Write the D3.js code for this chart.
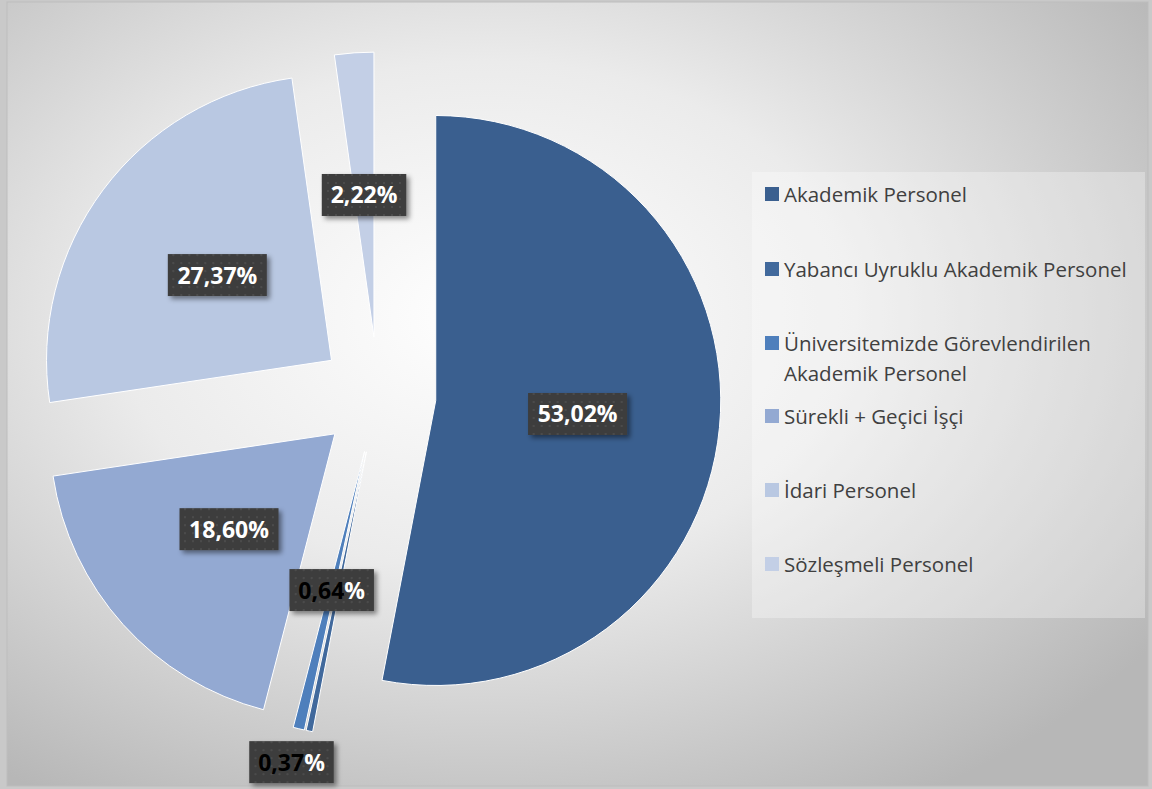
<!DOCTYPE html>
<html>
<head>
<meta charset="utf-8">
<script src="https://cdn.jsdelivr.net/npm/d3@7"></script>
<style>
  html, body { margin: 0; padding: 0; background: #c9c9c9; }
  svg { display: block; }
</style>
</head>
<body>
<div id="chart"></div>
<script>
// Personel dağılımı, exploded pie
// slice sizes as drawn in the picture; printed labels kept separately

const categories = [
  "Akademik Personel",
  "Yabancı Uyruklu Akademik Personel",
  "Üniversitemizde Görevlendirilen Akademik Personel",
  "Sürekli + Geçici İşçi",
  "İdari Personel",
  "Sözleşmeli Personel"
];
const values = [53.02, 0.37, 0.64, 18.60, 25.15, 2.22];
const labels = ["53,02%", "0,37%", "0,64%", "18,60%", "27,37%", "2,22%"];
const legendLines = [
  ["Akademik Personel"],
  ["Yabancı Uyruklu Akademik Personel"],
  ["Üniversitemizde Görevlendirilen", "Akademik Personel"],
  ["Sürekli + Geçici İşçi"],
  ["İdari Personel"],
  ["Sözleşmeli Personel"]
];
const colors = ["#3a5f8f", "#41699c", "#4e7fbc", "#93a9d2", "#b9c8e2", "#c3cfe6"];

const W = 1152, H = 789;
const svg = d3.select("#chart").append("svg")
  .attr("width", W).attr("height", H);

const defs = svg.append("defs");

// background gradient
const bg = defs.append("radialGradient").attr("id", "bg")
  .attr("cx", "42%").attr("cy", "40%").attr("r", "72%");
bg.append("stop").attr("offset", "0%").attr("stop-color", "#ffffff");
bg.append("stop").attr("offset", "45%").attr("stop-color", "#ebebeb");
bg.append("stop").attr("offset", "100%").attr("stop-color", "#b7b7b7");

// dotted dark label fill
const pat = defs.append("pattern").attr("id", "dots")
  .attr("width", 8).attr("height", 8).attr("patternUnits", "userSpaceOnUse");
pat.append("rect").attr("width", 8).attr("height", 8).attr("fill", "#3c3c3c");
pat.append("circle").attr("cx", 4).attr("cy", 4).attr("r", 1.2).attr("fill", "#4c4c4c");

const shadow = defs.append("filter").attr("id", "shadow")
  .attr("x", "-20%").attr("y", "-20%").attr("width", "150%").attr("height", "160%");
shadow.append("feDropShadow").attr("dx", 3).attr("dy", 3)
  .attr("stdDeviation", 2.5).attr("flood-color", "#000").attr("flood-opacity", 0.45);

// chart area
svg.append("rect").attr("x", 7).attr("y", 2).attr("width", 1141).attr("height", 784)
  .attr("fill", "url(#bg)").attr("stroke", "#bdbdbd").attr("stroke-width", 1);

// pie
const cx = 378, cy = 395, r = 285, explode = 58;
const pie = d3.pie().sort(null).value(d => d)(values);
const arc = d3.arc().innerRadius(0).outerRadius(r);
const dir = a => [Math.sin(a), -Math.cos(a)];

const slices = svg.append("g").attr("transform", `translate(${cx},${cy})`);
slices.selectAll("path").data(pie).join("path")
  .attr("transform", d => {
    const [ux, uy] = dir((d.startAngle + d.endAngle) / 2);
    return `translate(${ux * explode},${uy * explode})`;
  })
  .attr("d", arc)
  .attr("fill", (d, i) => colors[i])
  .attr("stroke", "#ffffff").attr("stroke-width", 1);

// data labels (small Yabancı label sits outside the pie)
const labelFactor = [0.5, 1.12, 0.5, 0.5, 0.5, 0.5];
const labelTurn = [0, 0.03, 0, 0, 0, 0];
const lg = slices.append("g");
pie.forEach((d, i) => {
  const [ux, uy] = dir((d.startAngle + d.endAngle) / 2 + labelTurn[i]);
  const k = explode + r * labelFactor[i];
  const x = ux * k, y = uy * k;
  const g = lg.append("g").attr("transform", `translate(${x},${y})`);
  const bw = labels[i].length * 14.5 + 12, bh = 42;
  g.append("rect").attr("x", -bw / 2).attr("y", -bh / 2)
    .attr("width", bw).attr("height", bh)
    .attr("fill", "url(#dots)").attr("filter", "url(#shadow)");
  const t = g.append("text").attr("text-anchor", "middle").attr("y", 8.5)
    .attr("font-family", "'Open Sans', sans-serif").attr("font-weight", "bold")
    .attr("font-size", 23).attr("fill", "#ffffff");
  if (values[i] < 1) {
    t.append("tspan").attr("fill", "#000000").text(labels[i].slice(0, -1));
    t.append("tspan").attr("fill", "#ffffff").text("%");
  } else {
    t.text(labels[i]);
  }
});

// legend
const legend = svg.append("g");
legend.append("rect").attr("x", 752).attr("y", 172).attr("width", 393).attr("height", 446)
  .attr("fill", "#ffffff").attr("fill-opacity", 0.3);
const rowY = [194, 269, 343, 416, 490, 564];
categories.forEach((c, i) => {
  legend.append("rect").attr("x", 765).attr("y", rowY[i] - 7)
    .attr("width", 14).attr("height", 14).attr("fill", colors[i]);
  const t = legend.append("text").attr("x", 784).attr("y", rowY[i] + 7.5)
    .attr("font-family", "'Open Sans', sans-serif").attr("font-size", 20.5)
    .attr("fill", "#404040");
  legendLines[i].forEach((line, j) => {
    t.append("tspan").attr("x", 784).attr("dy", j === 0 ? 0 : 30).text(line);
  });
});
</script>
</body>
</html>
